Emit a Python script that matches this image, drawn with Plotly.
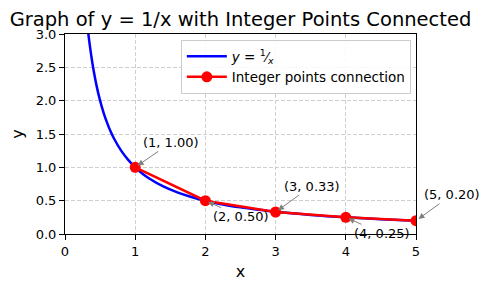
import plotly.graph_objects as go

# Curve y = 1/x
curve_x = [0.30, 0.333, 0.35, 0.375, 0.40, 0.45, 0.50, 0.55, 0.60, 0.65, 0.70, 0.80, 0.90, 1.00,
           1.10, 1.20, 1.40, 1.60, 1.80, 2.00, 2.25, 2.50, 2.75, 3.00, 3.50, 4.00, 4.50, 5.00]
curve_y = [3.333, 3.00, 2.857, 2.667, 2.50, 2.222, 2.00, 1.818, 1.667, 1.538, 1.429, 1.25, 1.111, 1.00,
           0.909, 0.833, 0.714, 0.625, 0.556, 0.50, 0.444, 0.40, 0.364, 0.333, 0.286, 0.25, 0.222, 0.20]

# Integer points
int_x = [1, 2, 3, 4, 5]
int_y = [1.00, 0.50, 0.33, 0.25, 0.20]
point_labels = ["(1, 1.00)", "(2, 0.50)", "(3, 0.33)", "(4, 0.25)", "(5, 0.20)"]

x_ticks = [0, 1, 2, 3, 4, 5]
y_ticks = [0.0, 0.5, 1.0, 1.5, 2.0, 2.5, 3.0]

FONT = "DejaVu Sans"

fig = go.Figure()
fig.add_trace(go.Scatter(
    x=curve_x, y=curve_y, mode="lines", line=dict(color="#0000ff", width=2.5, shape="spline"),
    name="<i>y</i> = <sup>1</sup>⁄<sub><i>x</i></sub>"))
fig.add_trace(go.Scatter(
    x=int_x, y=int_y, mode="lines+markers",
    line=dict(color="#ff0000", width=2.5),
    marker=dict(color="#ff0000", size=11),
    name="Integer points connection"))

offsets = [(36, -25), (36, 16), (36, -26), (36, 16), (36, -26)]
for xv, yv, lab, (ax, ay) in zip(int_x, int_y, point_labels, offsets):
    fig.add_annotation(
        x=xv, y=yv, text=lab, showarrow=True, ax=ax, ay=ay,
        axref="pixel", ayref="pixel",
        arrowhead=2, arrowsize=1.2, arrowwidth=1, arrowcolor="#808080",
        standoff=3, font=dict(family=FONT, size=13, color="black"))

axis_common = dict(
    showline=True, linecolor="black", linewidth=1, mirror=True,
    ticks="outside", ticklen=5, tickwidth=1, tickcolor="black",
    showgrid=True, gridcolor="#cfcfcf", griddash="4px,2px", gridwidth=1,
    zeroline=False, tickfont=dict(family=FONT, size=13, color="black"),
)

fig.update_xaxes(range=[0, 5], tickvals=x_ticks, ticktext=[str(v) for v in x_ticks],
                 title=dict(text="x", font=dict(family=FONT, size=16, color="black"), standoff=8),
                 **axis_common)
fig.update_yaxes(range=[0, 3], tickvals=y_ticks, ticktext=[f"{v:.1f}" for v in y_ticks],
                 title=dict(text="y", font=dict(family=FONT, size=16, color="black"), standoff=8),
                 **axis_common)

fig.update_layout(
    width=492, height=290,
    margin=dict(l=65, r=76, t=34, b=54),
    paper_bgcolor="white", plot_bgcolor="white",
    title=dict(text="Graph of y = 1/x with Integer Points Connected",
               font=dict(family=FONT, size=19.5, color="black"),
               x=0.5, xref="paper", xanchor="center", y=0.935, yanchor="middle"),
    legend=dict(x=0.33, y=0.97, xanchor="left", yanchor="top",
                bgcolor="rgba(255,255,255,0.85)", bordercolor="#cccccc", borderwidth=1,
                font=dict(family=FONT, size=13.5, color="black"), tracegroupgap=4,
                itemwidth=40),
    showlegend=True,
)

fig.write_html("out.html")
